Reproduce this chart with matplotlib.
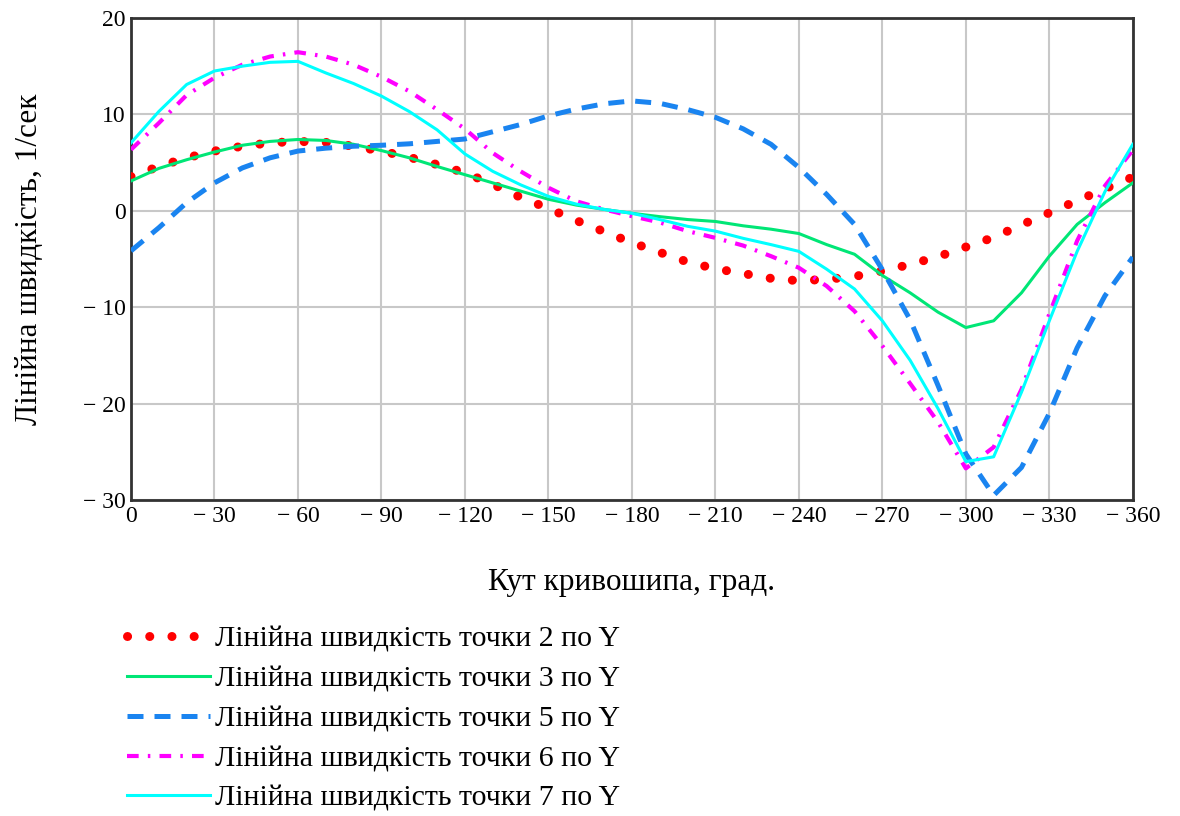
import numpy as np
import matplotlib
matplotlib.use("Agg")
import matplotlib.pyplot as plt

plt.rcParams['font.family'] = ['Liberation Serif', 'DejaVu Serif']

# crank angle, degrees (plotted as negative angles)
angle = [-a for a in range(0, 370, 10)]

# linear velocity along Y, 1/sec
v2 = [3.55, 4.6, 5.5, 6.2, 6.7, 7.05, 7.2, 7.1, 6.7, 6.2,
      5.55, 4.8, 3.95, 2.75, 1.4, 0.25, -1.0, -2.15, -3.3, -4.3,
      -5.3, -6.0, -6.5, -7.0, -7.25, -7.1, -6.8, -6.25, -5.55, -4.75,
      -3.75, -2.75, -1.45, -0.2, 1.05, 2.3, 3.5]
v3 = [3.1, 4.4, 5.3, 6.1, 6.8, 7.2, 7.4, 7.3, 6.9, 6.25,
      5.5, 4.6, 3.75, 2.9, 2.05, 1.2, 0.6, 0.15, -0.25, -0.6,
      -0.9, -1.1, -1.55, -1.9, -2.35, -3.5, -4.5, -6.7, -8.5, -10.5,
      -12.1, -11.4, -8.5, -4.7, -1.4, 0.85, 2.9]
v5 = [-4.15, -1.75, 0.85, 2.9, 4.45, 5.5, 6.2, 6.5, 6.7, 6.8,
      6.95, 7.2, 7.45, 8.2, 8.95, 9.85, 10.55, 11.1, 11.4, 11.15,
      10.5, 9.7, 8.5, 6.9, 4.5, 1.7, -1.4, -6.1, -11.3, -18.1,
      -25.2, -29.5, -26.6, -21.0, -14.2, -8.8, -4.8]
v6 = [6.35, 9.1, 12.0, 13.8, 15.15, 16.0, 16.45, 16.0, 15.15, 13.9,
      12.4, 10.5, 8.5, 6.0, 4.1, 2.4, 1.0, 0.15, -0.55, -1.2,
      -2.1, -2.8, -3.6, -4.7, -5.9, -7.8, -10.4, -14.0, -17.9, -21.9,
      -26.7, -24.5, -18.5, -10.7, -3.1, 2.6, 6.3]
v7 = [7.05, 10.3, 13.1, 14.5, 15.0, 15.4, 15.5, 14.3, 13.2, 11.9,
      10.3, 8.4, 5.9, 4.1, 2.7, 1.5, 0.7, 0.15, -0.25, -0.9,
      -1.6, -2.1, -2.85, -3.5, -4.2, -6.05, -8.1, -11.4, -15.5, -20.5,
      -26.0, -25.5, -18.8, -11.4, -4.2, 2.0, 6.9]

labels = ['Лінійна швидкість точки 2 по Y',
          'Лінійна швидкість точки 3 по Y',
          'Лінійна швидкість точки 5 по Y',
          'Лінійна швидкість точки 6 по Y',
          'Лінійна швидкість точки 7 по Y']

xticks = list(range(0, -390, -30))
yticks = [20, 10, 0, -10, -20, -30]


def fmt(v):
    return str(v) if v >= 0 else '\u2212 ' + str(-v)


fig = plt.figure(figsize=(11.8, 8.16), dpi=100)
ax = fig.add_axes([0.111, 0.387, 0.849, 0.591])

ax.plot(angle, v2, color='#ff0000', lw=6.5, linestyle=(0, (0.01, 2.45)),
        dash_capstyle='round', label=labels[0], zorder=3)
ax.plot(angle, v3, color='#00e676', lw=2.2, label=labels[1], zorder=3)
ax.plot(angle, v5, color='#1a84f0', lw=3.6, linestyle=(0, (3.2, 2.2)),
        label=labels[2], zorder=3)
ax.plot(angle, v6, color='#ff00ff', lw=3.0,
        linestyle=(0, (2.8, 2.2, 0.6, 2.2)), label=labels[3], zorder=3)
ax.plot(angle, v7, color='#00ffff', lw=2.2, label=labels[4], zorder=3)

ax.set_xlim(0, -360)
ax.set_ylim(-30, 20)
ax.set_xticks(xticks)
ax.set_xticklabels([fmt(t) for t in xticks], fontsize=17)
ax.set_yticks(yticks)
ax.set_yticklabels([fmt(t) for t in yticks], fontsize=17)
ax.tick_params(length=0, pad=4)
ax.grid(True, color='#c8c8c8', lw=1.5)
ax.set_axisbelow(True)
for s in ax.spines.values():
    s.set_linewidth(2)
    s.set_color('#333333')

ax.set_xlabel('Кут кривошипа, град.', fontsize=22.5, labelpad=30)
ax.set_ylabel('Лінійна швидкість, 1/сек', fontsize=22.5, labelpad=28)

fig.legend(loc='upper left', bbox_to_anchor=(0.108, 0.233), frameon=False,
           fontsize=21.5, handlelength=2.75, handletextpad=0.18,
           labelspacing=0.43, borderaxespad=0, borderpad=0)

fig.savefig('out.png', dpi=100)
